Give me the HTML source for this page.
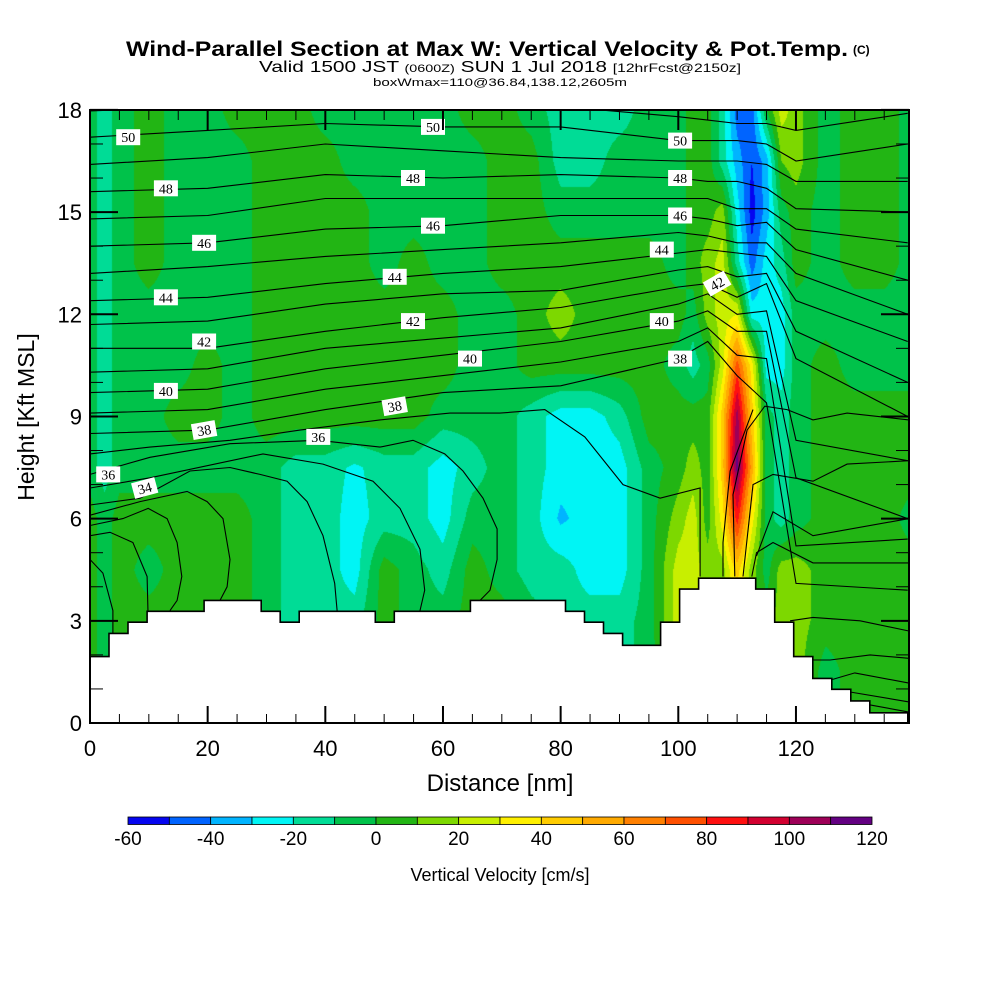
<!DOCTYPE html>
<html><head><meta charset="utf-8">
<style>
html,body{margin:0;padding:0;background:#fff;}
#wrap{position:relative;width:1000px;height:1000px;overflow:hidden;background:#fff;}
#field{position:absolute;left:90px;top:110px;}
#ov{position:absolute;left:0;top:0;}
text{font-family:"Liberation Sans",sans-serif;}
</style></head>
<body>
<div id="wrap">
<canvas id="field" width="819" height="613"></canvas>
<svg id="ov" width="1000" height="1000" xmlns="http://www.w3.org/2000/svg">
<defs><clipPath id="pc"><rect x="90" y="110" width="819" height="613"/></clipPath></defs>
<g id="title">
<text x="126" y="56" font-size="21" font-weight="bold" textLength="722" lengthAdjust="spacingAndGlyphs">Wind-Parallel Section at Max W: Vertical Velocity &amp; Pot.Temp.</text>
<text x="853" y="54" font-size="12" font-weight="bold">(C)</text>
<text x="259" y="72" font-size="16" textLength="482" lengthAdjust="spacingAndGlyphs">Valid 1500 JST <tspan font-size="11">(0600Z)</tspan> SUN 1 Jul 2018 <tspan font-size="12">[12hrFcst@2150z]</tspan></text>
<text x="373" y="86" font-size="11" textLength="254" lengthAdjust="spacingAndGlyphs">boxWmax=110@36.84,138.12,2605m</text>
</g>
<g id="lines" clip-path="url(#pc)"></g>
<g id="terrain" clip-path="url(#pc)"></g>
<g id="labels" clip-path="url(#pc)"></g>
<rect x="90" y="110" width="819" height="613" fill="none" stroke="#000" stroke-width="2"/>
<g id="axes"></g>
<text x="0" y="0" font-size="23" transform="translate(34,417) rotate(-90)" text-anchor="middle">Height [Kft MSL]</text>
<text x="500" y="791" font-size="24" text-anchor="middle">Distance [nm]</text>
<g id="cbar"></g>
<text x="500" y="881" font-size="18" text-anchor="middle">Vertical Velocity [cm/s]</text>
</svg>
</div>
<script>
// ---- data ----
const xNodes = [0,2.5,5,10,15,20,25,30,35,40,45,50,55,60,65,70,75,80,85,90,95,100,102.5,105,107.5,110,112.5,115,117.5,120,125,130,135,140];
const zNodes = [18,16.5,15,13.5,12,10.5,9,7.5,6,4.5,3,1.5,0];
const w18   = [-5,-15,-5,5,-5,-5,5,5,5,-5,-5,-5,-5,-5,5,5,-5,-15,-15,-15,-5,-5,5,5,-15,-45,-45,0,25,15,-5,5,5,-5];
const w16_5 = [-5,-15,-5,5,-5,-5,-5,5,5,5,-5,-5,-5,-5,-5,5,5,-15,-15,-5,-5,-5,5,5,-15,-35,-50,-35,10,15,-5,5,5,-5];
const w15   = [-5,-15,-5,5,-5,-5,-5,5,5,5,5,-5,-5,-5,-5,5,5,-5,-5,-5,-5,-5,5,5,15,-25,-55,-35,-5,5,-5,5,5,-5];
const w13_5 = [-5,-15,-5,5,-5,-5,-5,5,5,5,5,-5,5,-5,-5,5,5,5,5,5,5,-5,5,15,25,-15,-45,-25,-15,5,-5,5,5,-5];
const w12   = [-5,-15,-5,-5,-5,-5,-5,5,5,5,5,5,5,5,-5,-5,5,15,5,5,5,5,-5,15,25,30,-25,-25,-25,-5,-5,-5,-5,-5];
const w10_5 = [-5,-15,-5,-5,-5,5,-5,5,5,5,5,5,5,5,-5,-5,5,5,5,5,5,-5,-15,-5,25,75,35,-25,-25,-5,5,-5,-5,-5];
const w9    = [-5,-15,-5,-5,5,5,-5,5,5,5,5,5,5,-5,-5,-5,-15,-25,-25,-15,5,5,5,5,45,105,45,-5,-15,-5,5,5,5,5];
const w7_5  = [-5,-15,-5,-5,-5,-5,-5,-5,-15,-15,-22,-15,-15,-25,-15,-5,-15,-25,-28,-25,-5,5,15,5,45,115,55,-5,-15,-5,5,5,5,5];
const w6    = [5,-5,5,5,5,5,5,-5,-15,-15,-25,-15,-15,-25,-5,-5,-15,-32,-25,-25,-5,15,25,5,35,85,35,-5,-15,-5,5,5,5,-5];
const w4_5  = [5,-5,5,-5,5,5,5,-5,-15,-15,-25,5,-5,-15,5,-5,-15,-15,-25,-25,-5,25,25,15,15,45,15,-5,15,15,5,5,5,5];
const w3    = [5,-5,5,5,5,5,5,-5,-15,-15,-15,5,-5,-5,5,5,-5,-15,-15,-15,-5,25,25,15,15,25,15,5,15,15,5,5,5,5];
const w1_5  = [5,-5,5,5,5,5,5,5,5,5,5,5,5,5,5,5,5,-5,-15,-15,-5,15,15,15,15,15,15,5,15,15,-5,5,5,5];
const w0    = [5,-5,5,5,5,5,5,5,5,5,5,5,5,5,5,5,5,-5,-15,-15,-5,15,15,15,15,15,15,5,15,15,-5,5,5,5];
const wRows = [w18,w16_5,w15,w13_5,w12,w10_5,w9,w7_5,w6,w4_5,w3,w1_5,w0];

const cbarLevels = [-60,-50,-40,-30,-20,-10,0,10,20,30,40,50,60,70,80,90,100,110,120];
const cbarColors = ["#0505f0","#0064ff","#00b4ff","#00f5f5","#00dc96","#00c24a","#22b514","#7dd800","#c8ef00","#fff000","#ffcc00","#ffaa00","#ff8000","#ff5000","#ff1010","#d20030","#9e0058","#640082"];

const terrainCellNm = 3.233;
const terrainKft = [1.95,2.63,2.96,3.28,3.28,3.28,3.6,3.6,3.6,3.28,2.96,3.28,3.28,3.28,3.28,2.96,3.28,3.28,3.28,3.28,3.6,3.6,3.6,3.6,3.6,3.28,2.96,2.63,2.28,2.28,2.96,3.93,4.25,4.25,4.25,3.93,2.96,1.95,1.31,0.99,0.65,0.3,0.3];

const thetaX = [0,20,40,60,80,100,105,110,115,120,139];
const th51 = [17.97,18.1,18.2,18.1,18.1,17.8,17.7,17.6,17.6,17.4,17.9];
const th50 = [17.2,17.4,17.6,17.5,17.5,17.1,17.1,17.1,17.0,16.5,17.0];
const th49 = [16.4,16.6,17.0,16.8,16.6,16.5,16.5,16.5,16.4,15.9,15.9];
const th48 = [15.6,15.7,16.1,16.0,16.1,16.0,15.9,15.9,15.7,15.1,15.0];
const th47 = [14.8,14.9,15.4,15.4,15.4,15.4,15.4,15.1,15.1,14.5,14.1];
const th46 = [14.0,14.1,14.5,14.6,14.9,14.9,14.8,14.6,14.7,13.9,13.0];
const th45 = [13.2,13.4,13.7,13.9,14.1,14.4,14.3,14.1,14.1,13.2,12.0];
const th44 = [12.4,12.5,12.9,13.2,13.4,13.8,13.9,13.8,13.7,12.4,11.2];
const th43 = [11.7,11.8,12.3,12.6,12.7,13.3,13.4,13.1,13.2,11.5,10.0];
const th42 = [11.0,11.0,11.5,11.9,12.2,12.8,12.9,12.5,12.9,10.7,9.0];
const th41 = [10.3,10.4,11.0,11.3,11.6,12.3,12.6,12.0,12.1,8.3,7.7];
const th40 = [9.7,9.8,10.4,10.8,11.2,11.8,12.1,11.5,11.5,7.2,6.0];
const th39 = [9.1,9.2,9.8,10.2,10.6,11.2,11.6,10.8,10.7,5.2,5.4];
const th38 = [8.5,8.6,9.2,9.7,9.9,10.7,11.2,10.2,9.4,4.1,3.9];
const upperTheta = [th51,th50,th49,th48,th47,th46,th45,th44,th43,th42,th41,th40,th39,th38];

const th37x = [0,10.2,23.8,35.7,49.3,61.2,69.7,77.3,84.1,90.6,96.9,103.7,103.7];
const th37z = [7.9,8.1,8.3,8.6,8.9,9.1,9.1,9.2,8.4,7.0,6.6,6.9,4.3];
const th36x = [0,10.2,23.8,38.8,49.3,54.9,60.3,63.4,66.8,69.2,69.2,68.0,64.6];
const th36z = [7.3,7.8,8.2,8.3,8.1,8.3,7.9,7.4,6.6,5.7,4.8,3.9,3.3];
const th35x = [0,10.2,29.4,39.6,48.1,52.7,56.1,56.9,56.1];
const th35z = [6.9,7.2,7.9,7.6,7.1,6.3,5.1,3.9,3.3];
const th34x = [0,8.5,17.0,23.8,28.9,33.5,36.9,39.6,41.6,42.0];
const th34z = [6.4,6.6,7.4,7.5,7.3,7.1,6.5,5.5,4.1,3.3];
const th33x = [0,8.5,16.5,19.9,22.6,23.8,23.3,22.1];
const th33z = [6.1,6.5,6.8,6.5,6.0,4.8,4.0,3.6];
const th32x = [0,5.6,9.9,13.1,14.8,15.6,14.8,13.6];
const th32z = [5.8,6.0,6.3,6.0,5.3,4.3,3.6,3.3];
const th31x = [0,3.4,7.3,9.7,9.9];
const th31z = [5.5,5.6,5.3,4.3,3.0];
const th30x = [0,2.2,3.9,3.9];
const th30z = [4.8,4.4,3.3,2.6];
const up1x = [107.6,107.6,108.8,112.7]; const up1z = [4.3,5.3,7.4,9.2];
const up2x = [109.6,109.3,111.7,114.7,118.5,122.9,128.7,139.2]; const up2z = [4.3,6.7,8.6,9.3,9.2,8.9,9.1,8.9];
const rm1x = [111.0,112.7,116.1,122.9,128.7,139.2]; const rm1z = [4.3,7.0,7.3,7.1,7.6,7.7];
const rm2x = [112.5,113.3,116.1,122.9,139.2]; const rm2z = [4.3,5.0,5.3,4.7,4.7];
const rm3x = [113.3,116.1,122.9,139.2]; const rm3z = [4.9,6.2,5.5,6.0];
const rl1x = [119.0,122.9,130.9,139.2]; const rl1z = [3.0,3.1,3.0,2.7];
const rl2x = [121.5,125.8,132.6,139.2]; const rl2z = [1.85,1.85,2.0,1.9];
const rl3x = [125.8,130.0,139.2]; const rl3z = [1.26,1.47,1.17];
const rl4x = [129.2,139.2]; const rl4z = [0.91,0.62];
const rl5x = [132.6,139.2]; const rl5z = [0.53,0.32];
const freeLines = [[th37x,th37z],[th36x,th36z],[th35x,th35z],[th34x,th34z],[th33x,th33z],[th32x,th32z],[th31x,th31z],[th30x,th30z],[up1x,up1z],[up2x,up2z],[rm1x,rm1z],[rm2x,rm2z],[rm3x,rm3z],[rl1x,rl1z],[rl2x,rl2z],[rl3x,rl3z],[rl4x,rl4z],[rl5x,rl5z]];

const labelText = ["50","48","46","44","42","40","38","36","34","50","48","46","44","42","40","38","36","50","48","46","44","42","40","38"];
const labelNm   = [6.5,12.9,19.4,12.9,19.4,12.9,19.4,3.1,9.3,58.3,54.9,58.3,51.8,54.9,64.6,51.8,38.8,100.3,100.3,100.3,97.2,106.6,97.2,100.3];
const labelKft  = [17.2,15.7,14.1,12.5,11.2,9.75,8.6,7.3,6.9,17.5,16.0,14.6,13.1,11.8,10.7,9.3,8.4,17.1,16.0,14.9,13.9,12.9,11.8,10.7];
const labelRot  = [0,0,0,0,0,0,-10,0,-15,0,0,0,0,0,0,-10,0,0,0,0,0,-30,0,0];

const xTicks = [0,20,40,60,80,100,120];
const yTicks = [0,3,6,9,12,15,18];
const cbarTickLabels = [-60,-40,-20,0,20,40,60,80,100,120];

const X0=90, Y0=723, PXNM=5.883, PXK=34.06, XMAX=(909-90)/5.883;
const sx = v => X0 + v*PXNM;
const sy = v => Y0 - v*PXK;
const NS="http://www.w3.org/2000/svg";
function mk(tag, attrs, parent){const e=document.createElementNS(NS,tag);for(const k in attrs)e.setAttribute(k,attrs[k]);parent.appendChild(e);return e;}

function hex(c){return [parseInt(c.substr(1,2),16),parseInt(c.substr(3,2),16),parseInt(c.substr(5,2),16)];}
const rgb = cbarColors.map(hex);
function seg(arr, v, desc){
  for(let i=0;i<arr.length-1;i++){
    const a=arr[i], b=arr[i+1];
    if(desc ? (v<=a && v>=b) : (v>=a && v<=b)) return [i,(v-a)/(b-a)];
  }
  return desc ? (v>arr[0]?[0,0]:[arr.length-2,1]) : (v<arr[0]?[0,0]:[arr.length-2,1]);
}
(function(){
  const cv=document.getElementById('field'); const ctx=cv.getContext('2d');
  const W=cv.width,H=cv.height; const img=ctx.createImageData(W,H);
  const colSeg=[]; for(let px=0;px<W;px++) colSeg.push(seg(xNodes,(px+0.5)/PXNM,false));
  for(let py=0;py<H;py++){
    const [j,t]=seg(zNodes,18-(py+0.5)/PXK,true);
    const r0=wRows[j], r1=wRows[j+1];
    for(let px=0;px<W;px++){
      const [i,s]=colSeg[px];
      const v=(r0[i]*(1-s)+r0[i+1]*s)*(1-t)+(r1[i]*(1-s)+r1[i+1]*s)*t;
      let k=Math.floor((v-cbarLevels[0])/10); if(k<0)k=0; if(k>17)k=17;
      const c=rgb[k], o=(py*W+px)*4;
      img.data[o]=c[0];img.data[o+1]=c[1];img.data[o+2]=c[2];img.data[o+3]=255;
    }
  }
  ctx.putImageData(img,0,0);
})();

const gL=document.getElementById('lines');
upperTheta.forEach((zs,idx)=>{
  const pts=thetaX.map((x,i)=>sx(x).toFixed(1)+','+sy(zs[i]).toFixed(1)).join(' ');
  const p=mk('polyline',{points:pts,fill:'none',stroke:'#000','stroke-width':1.1},gL);
  
  
});
freeLines.forEach((ln,idx)=>{
  const pts=ln[0].map((x,i)=>sx(x).toFixed(1)+','+sy(ln[1][i]).toFixed(1)).join(' ');
  const p=mk('polyline',{points:pts,fill:'none',stroke:'#000','stroke-width':1.1},gL);
  
  
});

const gT=document.getElementById('terrain');
let tp=[sx(0)+','+sy(0)];
terrainKft.forEach((h,i)=>{tp.push(sx(i*terrainCellNm).toFixed(1)+','+sy(h).toFixed(1));tp.push(sx((i+1)*terrainCellNm).toFixed(1)+','+sy(h).toFixed(1));});
tp.push(sx(terrainKft.length*terrainCellNm).toFixed(1)+','+sy(0));
const tpoly=mk('polygon',{points:tp.join(' '),fill:'#fff',stroke:'#000','stroke-width':1.6},gT);



const gLb=document.getElementById('labels');
labelText.forEach((t,i)=>{
  const cx=sx(labelNm[i]), cy=sy(labelKft[i]);
  const g=mk('g',{transform:`translate(${cx.toFixed(1)},${cy.toFixed(1)}) rotate(${labelRot[i]})`},gLb);
  
  
  mk('rect',{x:-12,y:-8,width:24,height:16,fill:'#fff'},g);
  const tx=mk('text',{x:0,y:5,'font-size':14,'text-anchor':'middle',style:'font-family:"Liberation Serif",serif'},g);
  tx.textContent=t;
});

const gA=document.getElementById('axes');
for(let v=0; v<=XMAX; v+=5){
  const x=sx(v), major=(v%20===0);
  mk('line',{x1:x,y1:723,x2:x,y2:723-(major?17:9),stroke:'#000','stroke-width':major?2:1},gA);
  mk('line',{x1:x,y1:110,x2:x,y2:110+(major?20:10),stroke:'#000','stroke-width':major?2:1},gA);
}
for(let v=0; v<=18; v+=1){
  const y=sy(v), major=(v%3===0);
  mk('line',{x1:90,y1:y,x2:90+(major?28:13),y2:y,stroke:'#000','stroke-width':major?2:1},gA);
  mk('line',{x1:909,y1:y,x2:909-(major?28:13),y2:y,stroke:'#000','stroke-width':major?2:1},gA);
}
xTicks.forEach(v=>{
  const t=mk('text',{x:sx(v),y:756,'font-size':22,'text-anchor':'middle'},gA);
  
  
  t.textContent=v;
});
yTicks.forEach(v=>{
  const t=mk('text',{x:82,y:sy(v)+8,'font-size':22,'text-anchor':'end'},gA);
  
  
  t.textContent=v;
});

const gC=document.getElementById('cbar');
const CB0=128, CB1=872, CBW=(CB1-CB0)/cbarColors.length;
cbarColors.forEach((c,i)=>{
  const r=mk('rect',{x:CB0+i*CBW,y:817,width:CBW,height:7.5,fill:c,stroke:'#000','stroke-width':0.8},gC);
  
  
});
cbarTickLabels.forEach(v=>{
  const x=CB0+(v-cbarLevels[0])/10*CBW;
  const t=mk('text',{x:x,y:845,'font-size':19,'text-anchor':'middle'},gC);
  
  
  t.textContent=v;
});
</script>
</body></html>
